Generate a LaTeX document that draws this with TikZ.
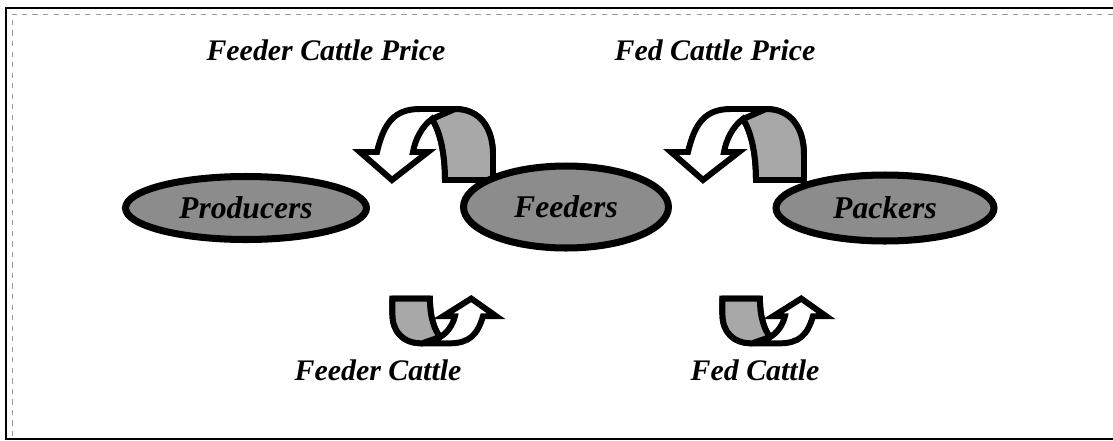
\documentclass[tikz,border=0pt]{standalone}
\usepackage{fontspec}
\setmainfont{Liberation Serif}
\usepackage{tikz}
\usetikzlibrary{shapes.geometric}
\definecolor{shade}{HTML}{8C8C8C}
\definecolor{backshade}{HTML}{A8A8A8}
\definecolor{rule}{HTML}{9A9A9A}
\tikzset{
  actor/.style={ellipse, draw=black, fill=shade, line width=4pt, inner sep=0pt,
    font=\fontsize{18}{21}\selectfont\bfseries\itshape},
  flow/.style={draw=black, line width=3.4pt, line join=miter, fill=white},
  flowback/.style={draw=black, line width=3.4pt, line join=round, fill=backshade},
  tag/.style={font=\fontsize{17}{20}\selectfont\bfseries\itshape},
  frame/.style={draw=black, line width=0.6pt},
  inframe/.style={draw=rule, dashed, line width=0.5pt},
}
% one u-turn arrow, drawn in pixel units
\newcommand{\uturn}{%
  \draw[flow] (377,152) .. controls (384,122) and (395,109) .. (420,109)
    -- (455,109) .. controls (480,109) and (493,128) .. (493,155) -- (493,180)
    -- (445,180) .. controls (445,150) and (439,130) .. (432,119)
    .. controls (422,126) and (415,140) .. (413,152) -- (428,152)
    -- (392,180) -- (360,152) -- cycle;
  \draw[flowback] (432,119) -- (455,109) .. controls (480,109) and (493,128) .. (493,155)
    -- (493,180) -- (445,180) .. controls (445,150) and (439,130) .. (432,119) -- cycle;
}

\begin{document}
\begin{tikzpicture}[x=0.02cm, y=-0.02cm]
  \useasboundingbox (0,0) rectangle (1113,440);
  \draw[frame] (1113,8) -- (6,8) -- (6,439) -- (1113,439);
  \draw[inframe] (1113,14) -- (12,14) -- (12,439);

  % price arrows (top)
  \uturn
  \begin{scope}[shift={(311,0)}]
    \uturn
  \end{scope}
  % cattle arrows (bottom)
  \begin{scope}[shift={(777,412)}, xscale=-0.78, yscale=-0.63]
    \uturn
  \end{scope}
  \begin{scope}[shift={(1107,412)}, xscale=-0.78, yscale=-0.63]
    \uturn
  \end{scope}

  \node[actor, minimum width=4.82cm, minimum height=1.26cm] (prod) at (246,208) {Producers};
  \node[actor, minimum width=4.1cm, minimum height=1.64cm] (feed) at (566,207) {Feeders};
  \node[actor, minimum width=4.36cm, minimum height=1.32cm] (pack) at (885,208) {Packers};

  \node[tag] (feederprice) at (326,50) {Feeder Cattle Price};
  \node[tag] (fedprice) at (715,50) {Fed Cattle Price};
  \node[tag] (feedercattle) at (378,370) {Feeder Cattle};
  \node[tag] (fedcattle) at (755,370) {Fed Cattle};
\end{tikzpicture}
\end{document}
